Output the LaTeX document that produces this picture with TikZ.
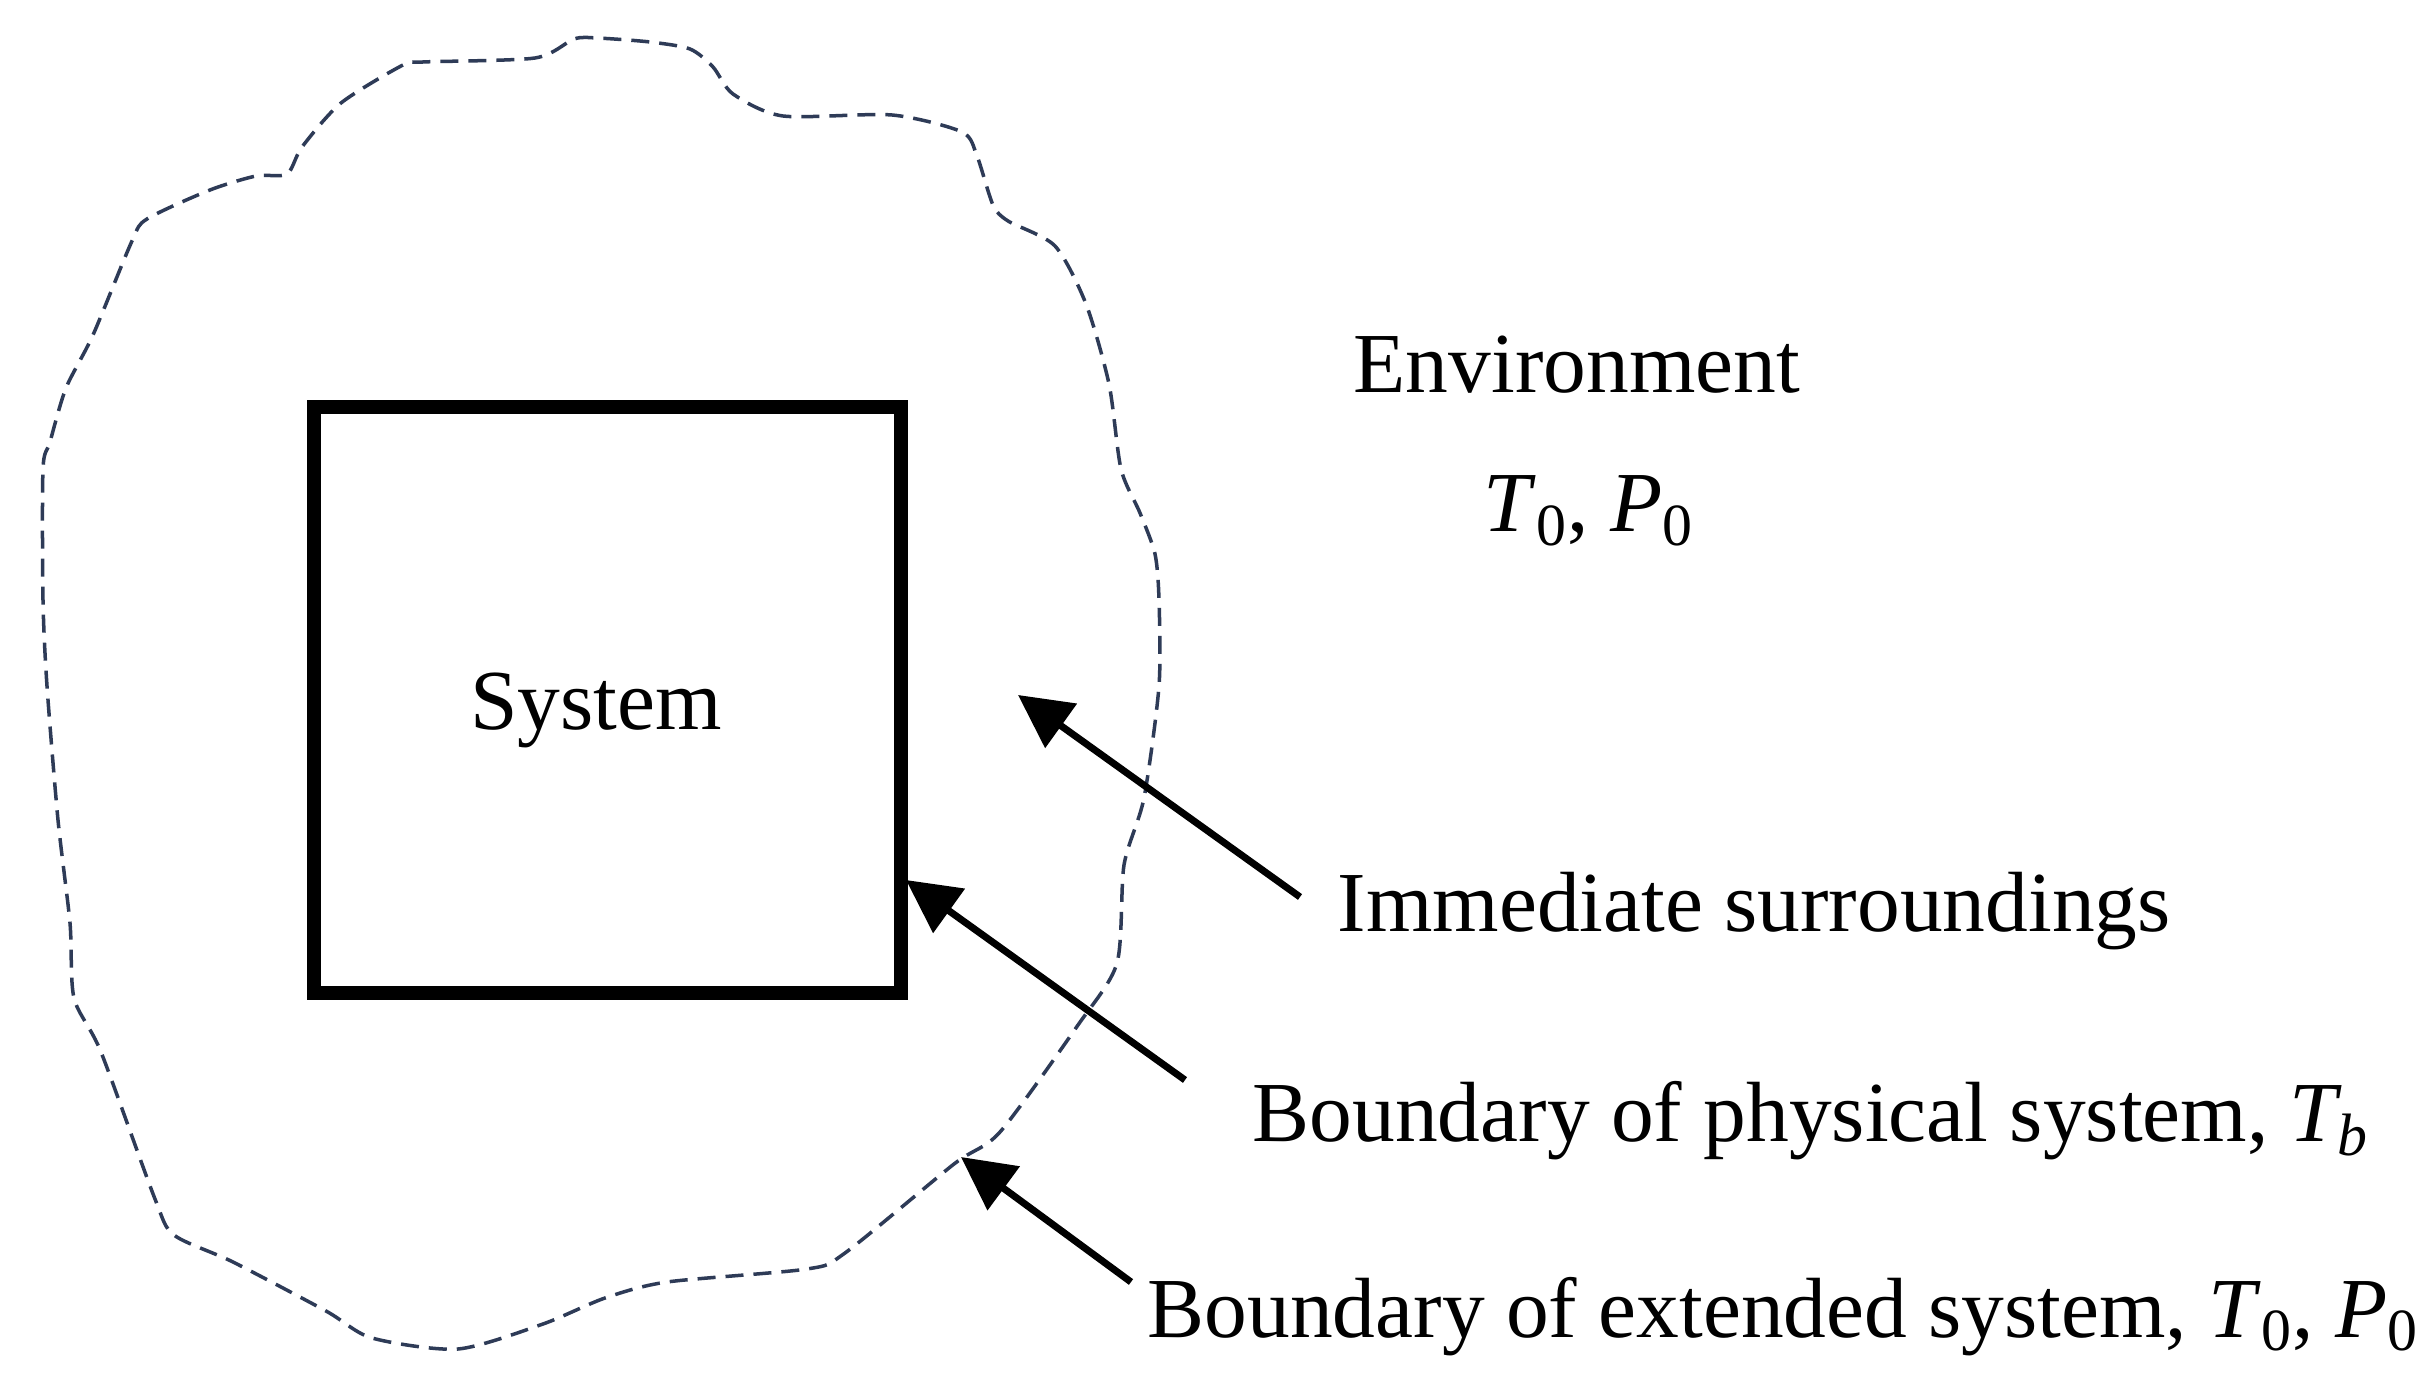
\documentclass[tikz,border=0pt]{standalone}
\usepackage{fontspec}
\setmainfont{Liberation Serif}
\usetikzlibrary{arrows.meta}
\definecolor{dashcol}{HTML}{2E3B57}
\tikzset{
  lbl/.style={inner sep=0pt, font=\fontsize{24.3}{29}\selectfont},
  sysbox/.style={draw=black, line width=0.14cm, inner sep=0pt},
  pointer/.style={line width=0.07cm, -{Triangle[length=0.53cm, width=0.53cm]}},
  extbound/.style={draw=dashcol, line width=0.035cm, dash pattern=on 0.18cm off 0.10cm}
}
\begin{document}
\begin{tikzpicture}[x=0.01cm, y=-0.01cm]
\useasboundingbox[fill=white] (0,0) rectangle (2433,1386);
% extended system boundary
\draw[extbound] plot[smooth cycle, tension=0.45] coordinates {
(147,219) (210,190) (256,176) (287,174) (302,147) (341,103) (403,65) (423,62)
(535,58) (574,39) (597,38) (650,42) (690,49) (713,67) (733,94) (783,116)
(892,115) (962,132) (977,156) (993,205) (1008,221) (1055,246) (1086,304)
(1109,384) (1121,469) (1140,513) (1155,554) (1159,600) (1159,686) (1144,798)
(1124,865) (1117,963) (1078,1025) (1000,1132) (954,1164) (845,1253) (807,1269)
(667,1282) (605,1298) (543,1324) (458,1349) (372,1338) (326,1311) (233,1262)
(174,1235) (155,1199) (101,1052) (74,998) (70,923) (58,820) (47,686) (43,600)
(43,469) (50,442) (66,388) (93,335) (132,241)};
% system box
\node (box) [sysbox, minimum width=5.87cm, minimum height=5.86cm] at (607.5,700) {};
\node (systxt) [lbl, anchor=base] at (596,730) {System};
% labels
\node (env) [lbl, anchor=base west] at (1353,393) {Environment};
\node (envtp) [lbl, anchor=base west] at (1483,532) {\textit{T}\textsubscript{0}, \textit{P}\textsubscript{0}};
\node (imm) [lbl, anchor=base west] at (1337,932) {Immediate surroundings};
\node (bphys) [lbl, anchor=base west] at (1252,1142) {Boundary of physical system, \textit{T\textsubscript{b}}};
\node (bext) [lbl, anchor=base west] at (1147,1337) {Boundary of extended system, \textit{T}\textsubscript{0}, \textit{P}\textsubscript{0}};
% arrow endpoints
\coordinate (t1) at (1300,897);
\coordinate (h1) at (1018,695);
\coordinate (t2) at (1185,1080);
\coordinate (h2) at (906,880);
\coordinate (t3) at (1131,1282);
\coordinate (h3) at (961,1157);
\draw[pointer] (t1) -- (h1);
\draw[pointer] (t2) -- (h2);
\draw[pointer] (t3) -- (h3);
\end{tikzpicture}
\end{document}
